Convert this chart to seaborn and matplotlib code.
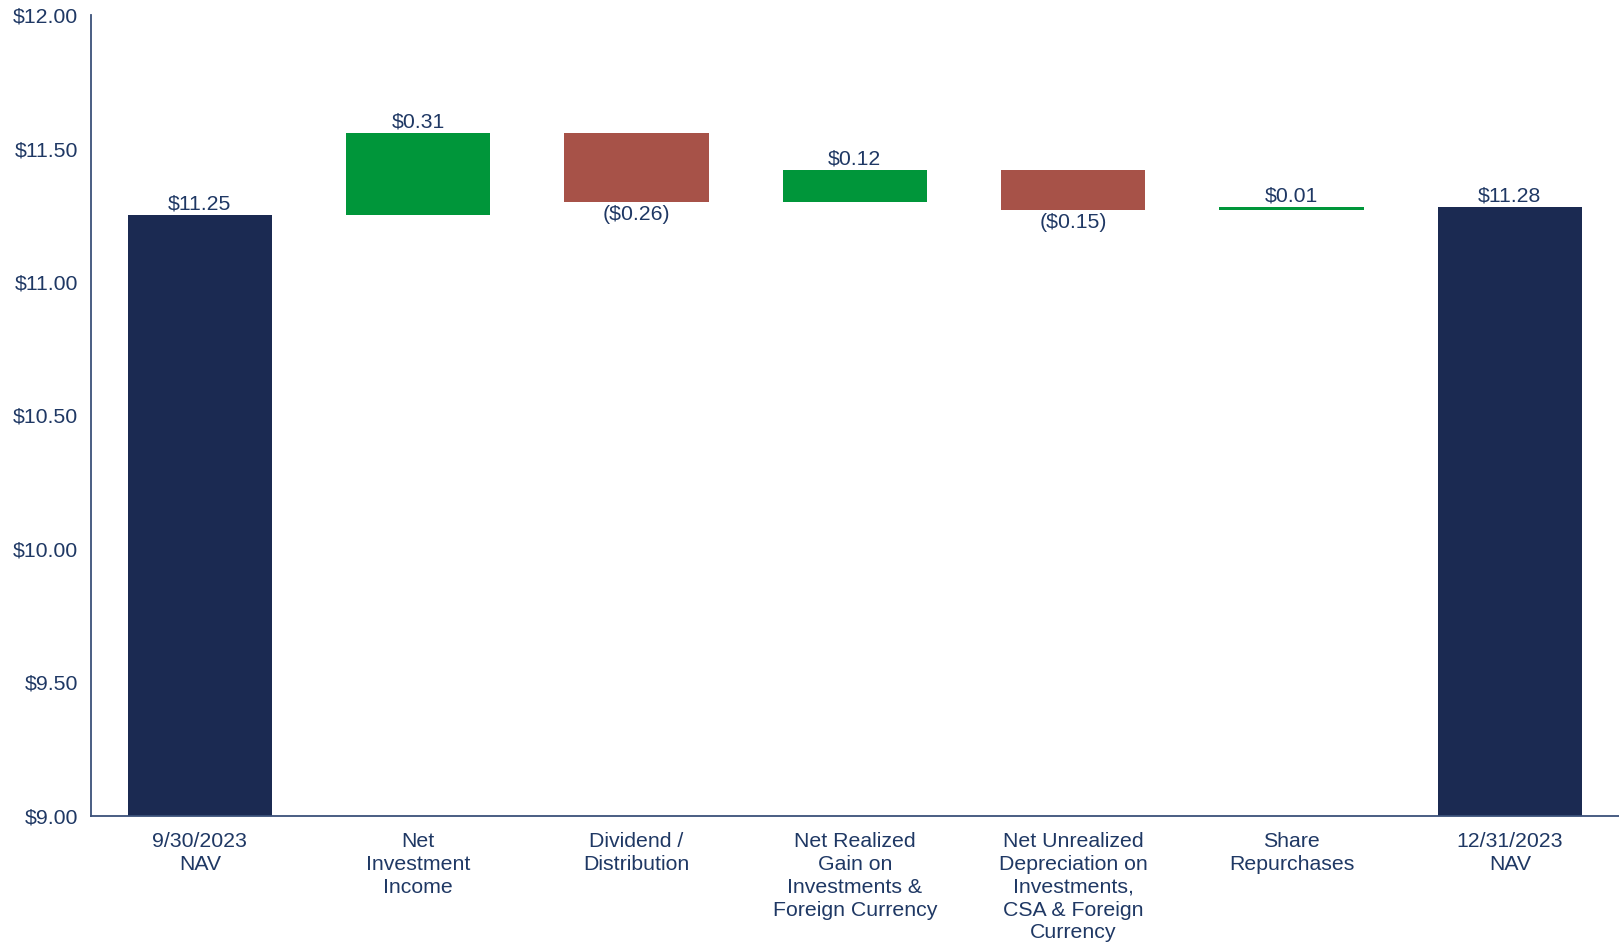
import numpy as np
import pandas as pd
import seaborn as sns
import matplotlib.pyplot as plt
from matplotlib.ticker import FuncFormatter

# Waterfall steps: NAV per share bridge, Q4 2023
steps = ["9/30/2023\nNAV", "Net\nInvestment\nIncome", "Dividend /\nDistribution",
         "Net Realized\nGain on\nInvestments &\nForeign Currency",
         "Net Unrealized\nDepreciation on\nInvestments,\nCSA & Foreign\nCurrency",
         "Share\nRepurchases", "12/31/2023\nNAV"]
start_nav = 11.25
changes = [0.31, -0.26, 0.12, -0.15, 0.01]
end_nav = 11.28

NAVY = "#1B2A52"
GREEN = "#00963A"
RED = "#A75248"
TEXT = "#1F3864"
AXIS = "#3A5079"
FS = 15.3

# build floating bars from the running total
levels = start_nav + np.cumsum([0] + changes)
bottoms = [0.0] + [min(levels[i], levels[i + 1]) for i in range(len(changes))] + [0.0]
heights = [start_nav] + [abs(c) for c in changes] + [end_nav]
values = [start_nav] + changes + [end_nav]
colors = [NAVY] + [GREEN if c > 0 else RED for c in changes] + [NAVY]

df = pd.DataFrame({"step": steps, "height": heights})

sns.set_style("white")
plt.rcParams["font.family"] = ["Liberation Sans", "DejaVu Sans"]

fig = plt.figure(figsize=(16.19, 9.43), dpi=100)
ax = fig.add_axes([0.056, 0.135, 0.944, 0.849])

sns.barplot(data=df, x="step", y="height", bottom=bottoms, width=0.66,
            order=steps, ax=ax, color=NAVY, linewidth=0, saturation=1)
for patch, c in zip(ax.patches, colors):
    patch.set_facecolor(c)
    patch.set_edgecolor("none")

# value labels
for i, v in enumerate(values):
    top = bottoms[i] + heights[i]
    if v >= 0:
        ax.text(i, top + 0.005, f"${v:.2f}", ha="center", va="bottom",
                fontsize=FS, color=TEXT)
    else:
        ax.text(i, bottoms[i] - 0.013, f"(${-v:.2f})", ha="center", va="top",
                fontsize=FS, color=TEXT)

ax.set_ylim(9, 12)
ax.set_xlim(-0.5, 6.5)
ax.set_yticks(np.arange(9, 12.01, 0.5))
ax.yaxis.set_major_formatter(FuncFormatter(lambda y, _: f"${y:.2f}"))
ax.set_xlabel("")
ax.set_ylabel("")
ax.tick_params(axis="both", length=0, colors=TEXT, labelsize=FS)
ax.tick_params(axis="x", pad=12)
ax.tick_params(axis="y", pad=9)
for lbl in ax.get_xticklabels():
    lbl.set_linespacing(1.25)

sns.despine(ax=ax, top=True, right=True)
for side in ["left", "bottom"]:
    ax.spines[side].set_color(AXIS)
    ax.spines[side].set_linewidth(1.3)

fig.savefig("out.png", dpi=100, facecolor="white")
